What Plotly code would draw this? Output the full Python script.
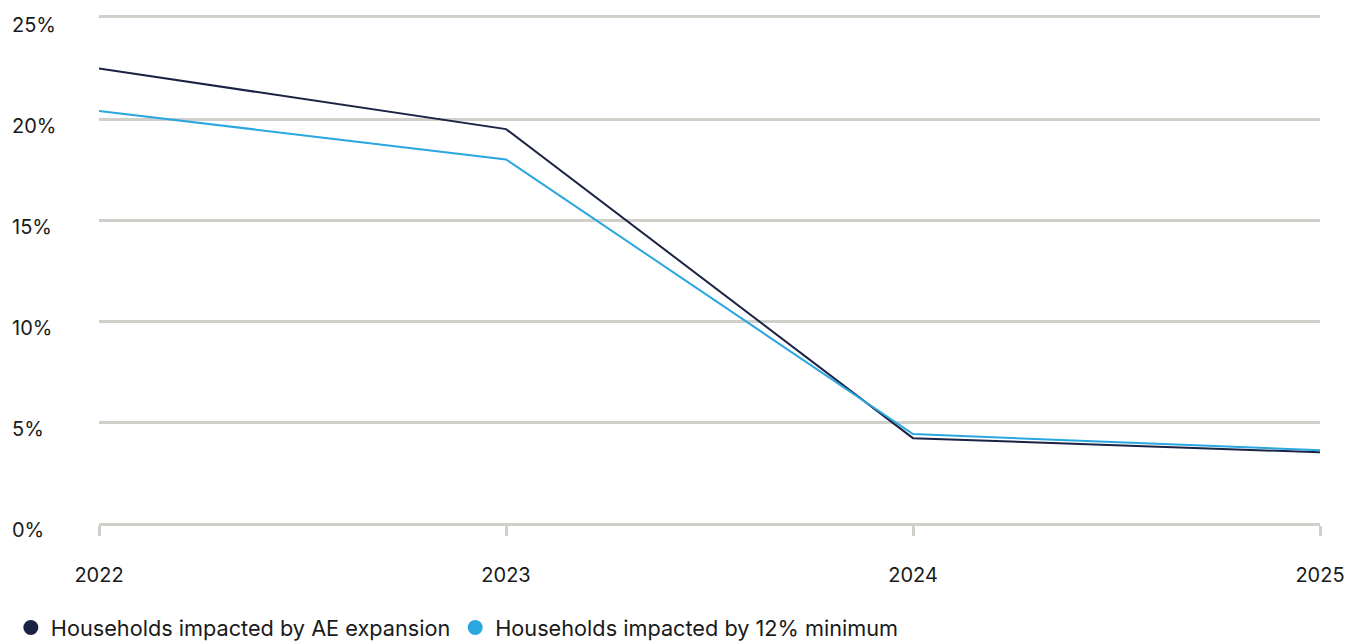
import plotly.graph_objects as go

years = [2022, 2023, 2024, 2025]
ae_expansion = [22.5, 19.5, 4.2, 3.5]
min_12 = [20.4, 18.0, 4.4, 3.6]
series_names = ["Households impacted by AE expansion", "Households impacted by 12% minimum"]
y_ticks = [0, 5, 10, 15, 20, 25]
y_tick_labels = ["0%", "5%", "10%", "15%", "20%", "25%"]

dark = "#1b2344"
light = "#2aa7df"
grid = "#d1cfca"
font = "Inter, Roboto, sans-serif"

fig = go.Figure()
for vals, col, name in [(ae_expansion, dark, series_names[0]), (min_12, light, series_names[1])]:
    fig.add_trace(go.Scatter(x=years, y=vals, mode="lines", line=dict(color=col, width=2),
                             showlegend=False, name=name))
for col, name in [(dark, series_names[0]), (light, series_names[1])]:
    fig.add_trace(go.Scatter(x=[None], y=[None], mode="markers", name=name,
                             marker=dict(color=col, size=15, symbol="circle")))

for v, lab in zip(y_ticks, y_tick_labels):
    fig.add_annotation(x=0, xref="paper", y=v, yref="y", text=lab, showarrow=False,
                       xanchor="left", xshift=-89, yshift=-7,
                       font=dict(family=font, size=20, color="#1a1a1a"))

fig.update_layout(
    width=1353, height=642,
    margin=dict(l=99, r=33, t=18, b=119),
    paper_bgcolor="white", plot_bgcolor="white",
    font=dict(family=font, size=20, color="#1a1a1a"),
    xaxis=dict(range=[2022, 2025], tickvals=years, ticktext=[str(y) for y in years],
               showgrid=False, zeroline=False, showline=True, linecolor=grid, linewidth=3,
               mirror=True, automargin=False,
               ticks="outside", ticklen=10, tickwidth=3, tickcolor=grid,
               ticklabelstandoff=22, tickfont=dict(size=20)),
    yaxis=dict(range=[0, 25], tickvals=y_ticks, showticklabels=False, automargin=False,
               showgrid=True, gridcolor=grid, gridwidth=3, zeroline=False, showline=False),
    legend=dict(orientation="h", xref="container", yref="container", x=0.008, y=0.022,
                xanchor="left", yanchor="middle", font=dict(size=21.7), itemwidth=30,
                tracegroupgap=0),
)
fig.write_html("out.html")
